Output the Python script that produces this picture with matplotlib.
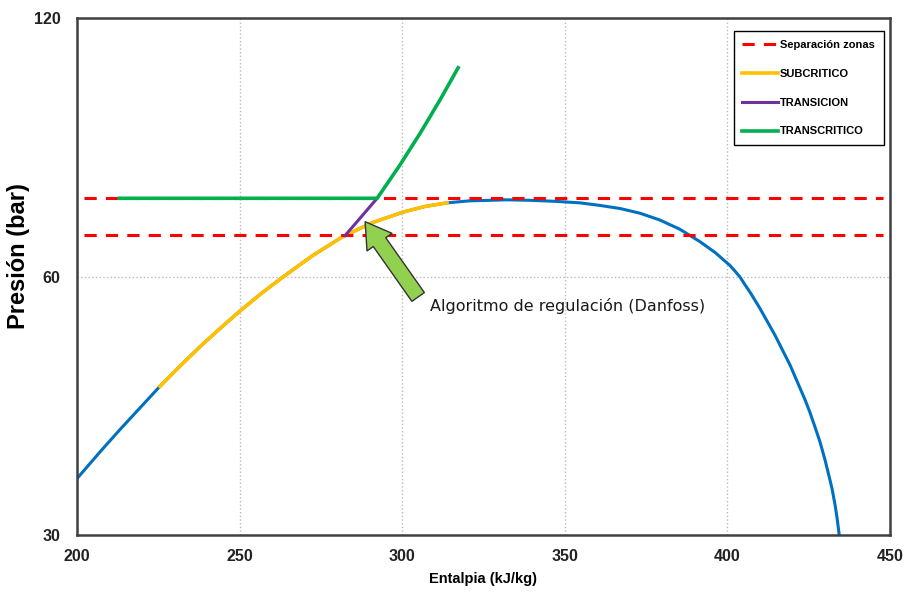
import numpy as np
import matplotlib
matplotlib.use('Agg')
import matplotlib.pyplot as plt
from matplotlib.ticker import FixedLocator, NullLocator

# Curva de saturacion CO2 (entalpia kJ/kg, presion bar)
h_sat = np.array([200.0, 207.1, 213.2, 219.4, 225.5, 231.7, 237.8, 244.0,
                  250.1, 256.6, 263.0, 272.3, 281.5, 290.7, 300.2, 307.0,
                  313.8, 320.8, 327.0, 331.9, 339.3, 347.0, 354.7, 360.8,
                  367.0, 373.1, 379.3, 385.4, 391.5, 396.2, 400.8, 402.3,
                  403.9, 405.4, 407.0, 410.0, 414.6, 419.3, 423.9, 425.4,
                  426.9, 428.5, 430.0, 431.2, 432.2, 433.1, 433.7, 434.4])
p_sat = np.array([34.9, 37.5, 39.8, 42.2, 44.7, 47.2, 49.7, 52.2,
                  54.7, 57.3, 59.8, 63.4, 66.7, 69.3, 71.3, 72.4,
                  73.1, 73.5, 73.6, 73.7, 73.6, 73.4, 73.1, 72.6,
                  72.0, 71.1, 69.8, 68.1, 65.9, 64.0, 61.8, 60.9,
                  59.9, 58.7, 57.5, 55.1, 51.3, 47.3, 43.1, 41.67,
                  40.12, 38.49, 36.73, 35.21, 33.95, 32.54, 31.47, 30.0])

# Tramo subcritico sobre la curva
h_sub_ini, h_sub_fin = 225.5, 313.8

# Lineas de separacion de zonas
h_sep = [202, 448]
p_sep_alta = 74
p_sep_baja = 67

# Transicion
h_trans = [282.5, 292.3]
p_trans = [67, 74]

# Transcritico
h_transcrit = [213, 292.3, 299.3, 305.6, 311.6, 317.2]
p_transcrit = [74, 74, 80.9, 88.2, 96.3, 105]

# Flecha del algoritmo
flecha_punta = (288.6, 69.5)
flecha_cola = (304.9, 56.8)
texto_pos = (308.5, 55.4)

fig = plt.figure(figsize=(9.06, 5.94), dpi=100)
ax = fig.add_axes([0.085, 0.0993, 0.8973, 0.8704])

ax.plot(h_sat, p_sat, color='#0070C0', lw=2.2, zorder=2)
sub = (h_sat >= h_sub_ini) & (h_sat <= h_sub_fin)
ax.plot(h_sat[sub], p_sat[sub], color='#FFC000', lw=2.6, zorder=3,
        label='SUBCRITICO')
ax.plot(h_sep, [p_sep_alta] * 2, color='#FF0000', lw=2.2, dashes=(4, 3),
        zorder=4, label='Separación zonas')
ax.plot(h_sep, [p_sep_baja] * 2, color='#FF0000', lw=2.2, dashes=(4, 3),
        zorder=4)
ax.plot(h_trans, p_trans, color='#7030A0', lw=2.2, zorder=5,
        label='TRANSICION')
ax.plot(h_transcrit, p_transcrit, color='#00B050', lw=2.6, zorder=5,
        label='TRANSCRITICO')

ax.annotate('', xy=flecha_punta, xytext=flecha_cola,
            arrowprops=dict(arrowstyle='simple,head_width=1.1,head_length=0.9,tail_width=0.55',
                            fc='#92D050', ec='#333333', lw=1.0,
                            mutation_scale=20, shrinkA=0, shrinkB=0),
            zorder=6)
ax.text(texto_pos[0], texto_pos[1], 'Algoritmo de regulación (Danfoss)',
        fontsize=11.5, family='DejaVu Sans', color='#1a1a1a',
        va='center', ha='left', zorder=6)

ax.set_yscale('log')
ax.set_xlim(200, 450)
ax.set_ylim(30, 120)
ax.xaxis.set_major_locator(FixedLocator([200, 250, 300, 350, 400, 450]))
ax.yaxis.set_major_locator(FixedLocator([30, 60, 120]))
ax.yaxis.set_minor_locator(NullLocator())
ax.set_yticklabels(['30', '60', '120'])
ax.tick_params(length=0, labelsize=11.5, pad=10)
ax.tick_params(axis='y', pad=12)
for lab in ax.get_xticklabels() + ax.get_yticklabels():
    lab.set_fontfamily('Liberation Sans')
    lab.set_fontweight('bold')
    lab.set_color('#222222')

ax.grid(True, color='#BBBBBB', linestyle=':', lw=1.0)
for s in ax.spines.values():
    s.set_color('#404040')
    s.set_linewidth(1.8)

ax.set_xlabel('Entalpia (kJ/kg)', fontsize=10.5, fontweight='bold',
              family='Liberation Sans', labelpad=6)
ax.set_ylabel('Presión (bar)', fontsize=17, fontweight='bold',
              family='Liberation Sans')
ax.yaxis.set_label_coords(-0.058, 0.54)

handles, labels = ax.get_legend_handles_labels()
orden = [1, 0, 2, 3]
leg = ax.legend([handles[i] for i in orden], [labels[i] for i in orden],
                loc='upper right', bbox_to_anchor=(0.9926, 0.975),
                borderaxespad=0,
                prop={'family': 'Liberation Sans', 'weight': 'bold', 'size': 8},
                handlelength=3.2, handletextpad=0.2, labelspacing=1.7,
                borderpad=0.8, fancybox=False, framealpha=1)
leg.get_frame().set_edgecolor('#000000')
leg.get_frame().set_linewidth(1.0)

fig.savefig('out.png', dpi=100)
